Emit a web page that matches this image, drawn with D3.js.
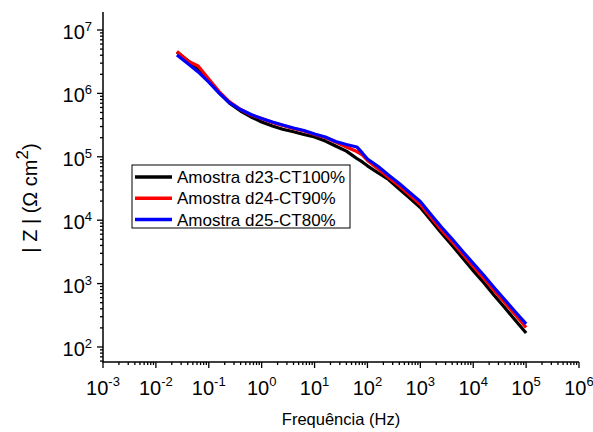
<!DOCTYPE html>
<html>
<head>
<meta charset="utf-8">
<script src="https://cdn.jsdelivr.net/npm/d3@7"></script>
<style>
  body { margin: 0; background: #fff; }
  svg { display: block; }
  text { font-family: "Liberation Sans", Arial, sans-serif; fill: #000; }
</style>
</head>
<body>
<svg id="chart" width="593" height="432"></svg>
<script>
// Impedance modulus spectra (Bode |Z| vs frequency)
const frequency = [0.025, 0.04, 0.063, 0.1, 0.16, 0.25, 0.4, 0.63, 1, 1.6, 2.5, 4, 6.3,
  10, 16, 25, 40, 63, 80, 100, 160, 250, 400, 630, 1000, 1600, 2500, 4000, 6300,
  10000, 16000, 25000, 40000, 63000, 100000];

const zD23 = [4.50e6, 3.30e6, 2.43e6, 1.57e6, 1.01e6, 6.93e5, 5.27e5, 4.25e5, 3.54e5, 3.06e5,
  2.72e5, 2.48e5, 2.25e5, 2.05e5, 1.77e5, 1.48e5, 1.23e5, 9.4e4, 8.3e4, 7.2e4, 5.55e4,
  4.39e4, 3.10e4, 2.24e4, 1.58e4, 9.9e3, 6.28e3, 3.99e3, 2.54e3, 1.60e3, 1.02e3, 647, 412, 261, 166];

const zD24 = [4.57e6, 3.24e6, 2.70e6, 1.69e6, 1.05e6, 7.31e5, 5.57e5, 4.56e5, 4.02e5, 3.48e5,
  3.12e5, 2.79e5, 2.55e5, 2.25e5, 2.01e5, 1.71e5, 1.43e5, 1.21e5, 1.07e5, 8.77e4, 6.43e4,
  4.71e4, 3.46e4, 2.49e4, 1.77e4, 1.10e4, 7.0e3, 4.53e3, 2.93e3, 1.86e3, 1.20e3, 773, 494, 320, 203];

const zD25 = [4.04e6, 2.96e6, 2.18e6, 1.51e6, 9.95e5, 7.06e5, 5.57e5, 4.65e5, 4.02e5, 3.54e5,
  3.18e5, 2.84e5, 2.60e5, 2.29e5, 2.05e5, 1.74e5, 1.56e5, 1.43e5, 1.15e5, 9.23e4, 7.03e4,
  5.16e4, 3.79e4, 2.74e4, 1.97e4, 1.22e4, 7.82e3, 5.05e3, 3.24e3, 2.08e3, 1.34e3, 861, 551, 356, 231];

const seriesNames = ["Amostra d23-CT100%", "Amostra d24-CT90%", "Amostra d25-CT80%"];
const seriesColors = ["#000000", "#ff0000", "#0000ff"];

const xTickExponents = [-3, -2, -1, 0, 1, 2, 3, 4, 5, 6];
const yTickExponents = [2, 3, 4, 5, 6, 7];

const xTitle = "Frequência (Hz)";

const svg = d3.select("#chart");

const x = d3.scaleLog().domain([1e-3, 1e6]).range([103, 579]);
const y = d3.scaleLog().domain([Math.pow(10, 1.763), Math.pow(10, 7.284)]).range([362, 12]);

// minor tick values (2..9 in each decade)
function minorTicks(lo, hi) {
  const out = [];
  for (let e = lo; e < hi; e++) {
    for (let m = 2; m <= 9; m++) out.push(m * Math.pow(10, e));
  }
  return out;
}

const axisG = svg.append("g").attr("stroke", "#000").attr("stroke-width", 1.3);

// Y axis: minor + major ticks pointing outward
const yMin = y.domain()[0], yMax = y.domain()[1];
const yMinor = minorTicks(1, 8).filter(v => v >= yMin && v <= yMax);
axisG.selectAll("line.yminor").data(yMinor).join("line")
  .attr("x1", 100).attr("x2", 103)
  .attr("y1", d => y(d)).attr("y2", d => y(d));
axisG.selectAll("line.ymajor").data(yTickExponents).join("line")
  .attr("x1", 97).attr("x2", 103)
  .attr("y1", d => y(Math.pow(10, d))).attr("y2", d => y(Math.pow(10, d)));

// X axis ticks
const xMinor = minorTicks(-3, 6);
axisG.selectAll("line.xminor").data(xMinor).join("line")
  .attr("y1", 362).attr("y2", 365)
  .attr("x1", d => x(d)).attr("x2", d => x(d));
axisG.selectAll("line.xmajor").data(xTickExponents).join("line")
  .attr("y1", 362).attr("y2", 368)
  .attr("x1", d => x(Math.pow(10, d))).attr("x2", d => x(Math.pow(10, d)));

// Axis lines
svg.append("path")
  .attr("d", `M${x.range()[0]},${y.range()[1]}V${y.range()[0]}H${x.range()[1]}`)
  .attr("fill", "none").attr("stroke", "#000").attr("stroke-width", 1.5);

// Tick labels with exponent superscripts
const yLab = svg.append("g").selectAll("text").data(yTickExponents).join("text")
  .attr("x", 92).attr("y", d => y(Math.pow(10, d)) + 9)
  .attr("text-anchor", "end");
yLab.append("tspan").attr("font-size", 20).text("10");
yLab.append("tspan").attr("font-size", 13).attr("dy", -8).text(d => String(d));

const xLab = svg.append("g").selectAll("text").data(xTickExponents).join("text")
  .attr("x", d => x(Math.pow(10, d))).attr("y", 395)
  .attr("text-anchor", "middle");
xLab.append("tspan").attr("font-size", 20).text("10");
xLab.append("tspan").attr("font-size", 13).attr("dy", -9).text(d => d < 0 ? "-" + Math.abs(d) : String(d));

// Axis titles
svg.append("text").attr("x", 341).attr("y", 425).attr("text-anchor", "middle")
  .attr("font-size", 16.5).text(xTitle);

const yt = svg.append("text").attr("transform", "translate(37,198) rotate(-90)")
  .attr("text-anchor", "middle").attr("font-size", 20);
yt.append("tspan").text("| Z | (\u03A9 cm");
yt.append("tspan").attr("font-size", 17).attr("dy", -9).text("2");
yt.append("tspan").attr("dy", 9).text(")");

// Curves
const seriesData = [zD23, zD24, zD25];
const line = d3.line()
  .x(d => x(d[0]))
  .y(d => y(d[1]));

svg.append("g").selectAll("path").data(seriesData).join("path")
  .attr("d", vals => line(frequency.map((f, i) => [f, vals[i]])))
  .attr("fill", "none")
  .attr("stroke", (d, i) => seriesColors[i])
  .attr("stroke-width", 3.2)
  .attr("stroke-linejoin", "round");

// Legend
const legend = svg.append("g");
legend.append("rect").attr("x", 132).attr("y", 165).attr("width", 218).attr("height", 63)
  .attr("fill", "#fff").attr("stroke", "#000").attr("stroke-width", 1);
const rows = legend.selectAll("g").data(seriesNames).join("g")
  .attr("transform", (d, i) => `translate(0,${177 + i * 21.3})`);
rows.append("line").attr("x1", 135).attr("x2", 172).attr("y1", 0).attr("y2", 0)
  .attr("stroke", (d, i) => seriesColors[i]).attr("stroke-width", 3.5);
rows.append("text").attr("x", 177).attr("y", 6).attr("font-size", 17).text(d => d);
</script>
</body>
</html>
